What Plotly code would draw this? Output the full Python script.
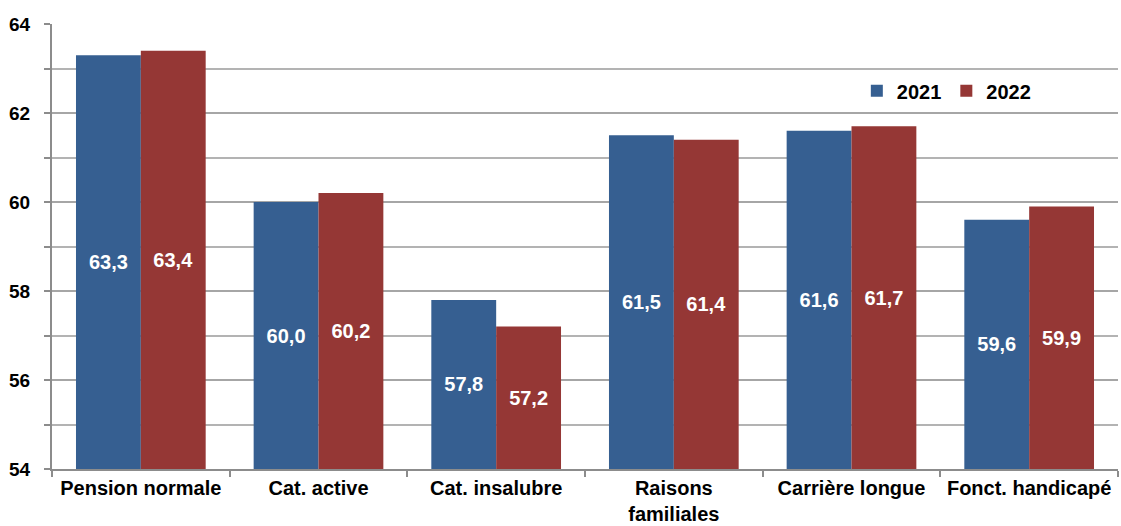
import plotly.graph_objects as go

categories = ["Pension normale", "Cat. active", "Cat. insalubre",
              "Raisons<br>familiales", "Carrière longue", "Fonct. handicapé"]
values_2021 = [63.3, 60.0, 57.8, 61.5, 61.6, 59.6]
values_2022 = [63.4, 60.2, 57.2, 61.4, 61.7, 59.9]
y_ticks = [54, 56, 58, 60, 62, 64]
y_min, y_max = 54, 64


def fr(v):
    return f"{v:.1f}".replace(".", ",")


font = "Liberation Sans, Arial, sans-serif"
label_font = dict(family=font, size=20, color="white", weight="bold")

fig = go.Figure()
# bars start at the axis floor so the inside labels sit mid-bar
fig.add_bar(
    x=categories, y=[v - y_min for v in values_2021], base=y_min, name="2021",
    marker=dict(color="#365f91", line=dict(width=0)),
    text=[fr(v) for v in values_2021], textposition="inside",
    insidetextanchor="middle", textfont=label_font, textangle=0,
)
fig.add_bar(
    x=categories, y=[v - y_min for v in values_2022], base=y_min, name="2022",
    marker=dict(color="#953735", line=dict(width=0)),
    text=[fr(v) for v in values_2022], textposition="inside",
    insidetextanchor="middle", textfont=label_font, textangle=0,
)

fig.update_layout(
    width=1121, height=526,
    margin=dict(l=52, r=3, t=24, b=57),
    barmode="group", bargap=0.27, bargroupgap=0,
    plot_bgcolor="white", paper_bgcolor="white",
    font=dict(family=font, size=19, color="black", weight="bold"),
    uniformtext=dict(minsize=20, mode="show"),
    legend=dict(
        orientation="h", x=0.755, y=0.85, xanchor="left", yanchor="middle",
        font=dict(family=font, size=20, color="black", weight="bold"),
        bgcolor="rgba(0,0,0,0)", itemwidth=30, traceorder="normal",
    ),
)
fig.update_xaxes(
    automargin=False,
    showline=True, linecolor="#8c8c8c", linewidth=2,
    ticks="outside", tickson="boundaries", ticklen=6, tickcolor="#8c8c8c",
    tickwidth=2, showgrid=False,
    tickfont=dict(family=font, size=20, color="black", weight="bold"),
)
fig.update_yaxes(
    automargin=False,
    range=[y_min, y_max], tickvals=y_ticks, showline=True, linecolor="#8c8c8c",
    linewidth=2, ticks="outside", ticklen=6, tickcolor="#8c8c8c", tickwidth=2,
    gridcolor="#a6a6a6", gridwidth=2, zeroline=False,
    ticklabelstandoff=10,
    minor=dict(dtick=1, showgrid=True, gridcolor="#b3b3b3", gridwidth=2,
               ticks="outside", ticklen=6, tickcolor="#8c8c8c", tickwidth=2),
    tickfont=dict(family=font, size=19, color="black", weight="bold"),
)

fig.write_html(
    "out.html",
    config={"displayModeBar": False},
    post_script="document.body.style.margin='0';document.body.style.overflow='hidden';",
)
